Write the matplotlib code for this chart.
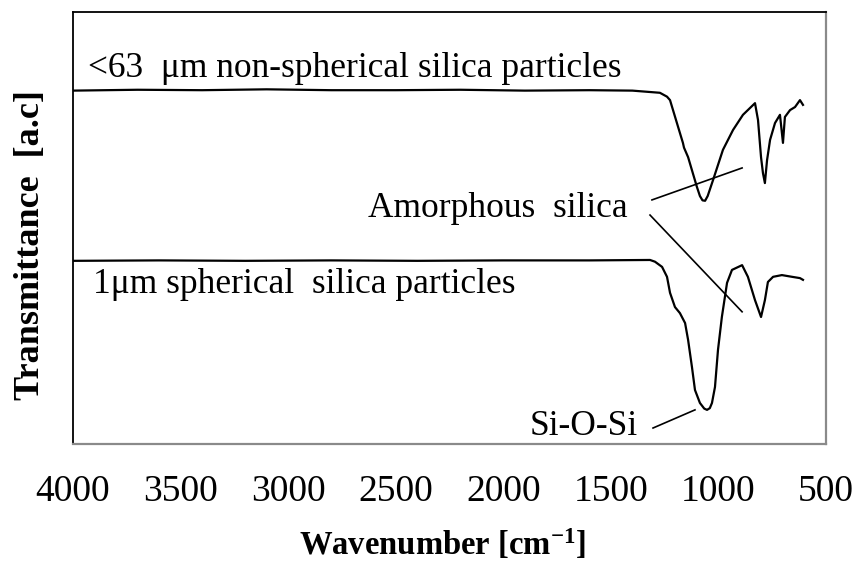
import matplotlib
matplotlib.use("Agg")
import matplotlib.pyplot as plt

plt.rcParams["font.family"] = ["Liberation Serif", "DejaVu Serif"]
plt.rcParams["mathtext.fontset"] = "custom"
plt.rcParams["mathtext.rm"] = "Liberation Serif"
plt.rcParams["mathtext.bf"] = "Liberation Serif:bold"
plt.rcParams["mathtext.it"] = "Liberation Serif:italic"

# FTIR spectra (wavenumber in cm^-1, transmittance in arbitrary units)
wn_irregular = [4000, 3700, 3400, 3100, 2800, 2500, 2200, 1900, 1600, 1400, 1272, 1239,
                1225, 1179, 1165, 1160, 1141, 1100, 1086, 1074, 1062, 1050, 1025, 979,
                932, 886, 830, 816, 802, 793, 784, 774, 760, 737, 714, 700, 691, 667,
                644, 621, 607]
tr_irregular = [81.8, 82.0, 81.9, 82.1, 81.9, 81.9, 82.0, 81.8, 81.9, 81.8, 81.3, 80.4,
                79.6, 72.0, 69.7, 68.6, 66.4, 59.5, 57.4, 56.4, 56.3, 57.4, 61.1, 68.1,
                72.7, 76.2, 78.9, 75.0, 66.4, 62.7, 60.4, 65.7, 70.4, 74.3, 76.2, 69.7,
                75.7, 77.3, 78.0, 79.6, 78.5]

wn_spherical = [4000, 3600, 3200, 2800, 2400, 2000, 1600, 1318, 1295, 1262, 1239, 1225,
                1202, 1179, 1155, 1141, 1123, 1109, 1086, 1066, 1053, 1040, 1030, 1016,
                1002, 984, 960, 937, 890, 863, 830, 802, 784, 770, 746, 705, 658, 621, 607]
tr_spherical = [42.4, 42.5, 42.4, 42.5, 42.4, 42.5, 42.5, 42.6, 42.2, 41.0, 38.7, 35.0,
                31.7, 30.3, 28.0, 24.1, 17.8, 12.5, 9.5, 8.2, 7.9, 8.3, 9.5, 13.2,
                21.8, 29.4, 37.3, 40.3, 41.4, 38.7, 33.3, 29.4, 33.3, 37.5, 38.7, 39.1,
                38.7, 38.4, 38.0]

xticks = [4000, 3500, 3000, 2500, 2000, 1500, 1000, 500]

fig = plt.figure(figsize=(8.56, 5.69), dpi=100)
ax = fig.add_axes([73 / 856, 1 - 444 / 569, 753 / 856, 432 / 569])

ax.plot(wn_irregular, tr_irregular, color="black", lw=1.6, solid_joinstyle="round")
ax.plot(wn_spherical, tr_spherical, color="black", lw=1.6, solid_joinstyle="round")

ax.set_xlim(4000, 500)
ax.set_ylim(0, 100)
ax.set_xticks(xticks)
ax.set_xticklabels([str(t) for t in xticks])
ax.set_yticks([])
ax.tick_params(axis="x", length=0, pad=22, labelsize=27)

for side in ("top", "left"):
    ax.spines[side].set_color("black")
    ax.spines[side].set_linewidth(1.3)
for side in ("bottom", "right"):
    ax.spines[side].set_color("#8a8a8a")
    ax.spines[side].set_linewidth(1.6)

# Series labels
ax.text(3930, 84.9, "<63  \u03bcm non-spherical silica particles", fontsize=25.5,
        ha="left", va="baseline")
ax.text(3907, 35.0, "1\u03bcm spherical  silica particles", fontsize=25.5,
        ha="left", va="baseline")

# Band assignments with leader lines
ax.text(2629, 52.5, "Amorphous  silica", fontsize=25.5, ha="left", va="baseline")
ax.plot([1309, 890], [56.5, 63.9], color="black", lw=1.2)
ax.plot([1318, 890], [53.0, 30.6], color="black", lw=1.2)

ax.text(1876, 2.1, "Si-O-Si", fontsize=25.5, ha="left", va="baseline")
ax.plot([1304, 1109], [3.7, 7.9], color="black", lw=1.2)

ax.set_xlabel(r"Wavenumber [cm$^{\mathbf{-1}}$]", fontsize=23.5, fontweight="bold")
ax.xaxis.set_label_coords((442 - 73) / 753, (444 - 545) / 432)
ax.xaxis.label.set_va("center")
ax.set_ylabel("Transmittance  [a.c]", fontsize=26, fontweight="bold")
ax.yaxis.set_label_coords((30 - 73) / 753, (444 - 245) / 432)
ax.yaxis.label.set_va("center")

fig.savefig("out.png", dpi=100)
